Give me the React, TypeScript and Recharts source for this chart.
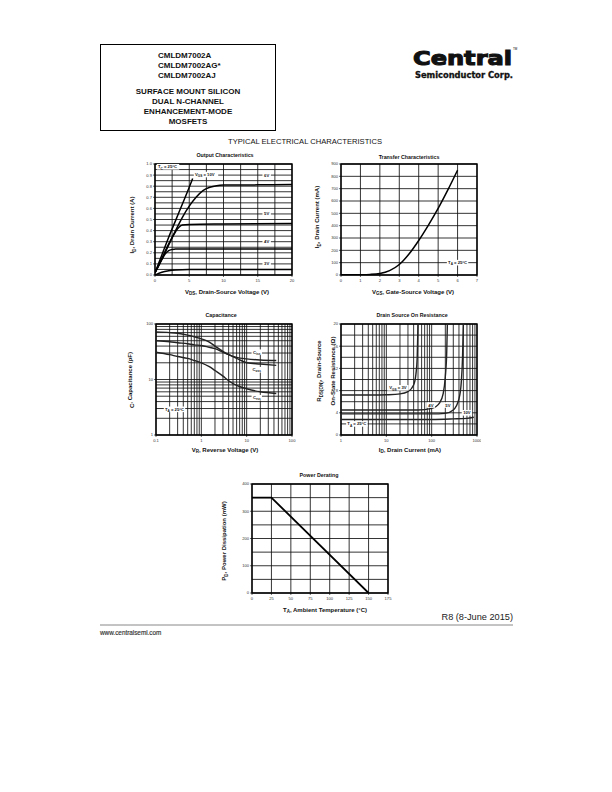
import React from 'react';
import { LineChart, Line, XAxis, YAxis, CartesianGrid, ReferenceArea, ReferenceDot } from 'recharts';

const FONT = '"Liberation Sans", Arial, Helvetica, sans-serif';

// Output Characteristics: I_D (A) vs V_DS (V), one pair of arrays per V_GS curve
const outVds10 = [0, 1, 2, 3, 4, 5, 5.5];
const outId10 = [0.02, 0.18, 0.34, 0.49, 0.64, 0.79, 0.87];
const outVds6 = [0, 1, 2, 3, 4, 5, 6, 7, 8, 9, 10, 15, 20];
const outId6 = [0.02, 0.14, 0.27, 0.4, 0.52, 0.62, 0.7, 0.76, 0.79, 0.805, 0.81, 0.812, 0.815];
const outVds5 = [0, 1, 2, 3, 3.5, 4, 5, 10, 20];
const outId5 = [0.02, 0.15, 0.28, 0.39, 0.43, 0.45, 0.455, 0.46, 0.465];
const outVds4 = [0, 0.5, 1, 1.5, 2, 2.5, 3, 20];
const outId4 = [0.02, 0.08, 0.14, 0.19, 0.22, 0.23, 0.235, 0.235];
const outVds3 = [0, 1, 2, 3, 5, 20];
const outId3 = [0, 0.025, 0.038, 0.045, 0.05, 0.05];
const outVdsTicks = [0, 2.5, 5, 7.5, 10, 12.5, 15, 17.5, 20];
const outIdTicks = [0, 0.05, 0.1, 0.15, 0.2, 0.25, 0.3, 0.35, 0.4, 0.45, 0.5, 0.55, 0.6, 0.65, 0.7, 0.75, 0.8, 0.85, 0.9, 0.95, 1];

// Transfer Characteristics: I_D (mA) vs V_GS (V)
const trVgs = [0, 1, 1.5, 2, 2.5, 3, 3.5, 4, 4.5, 5, 5.5, 6];
const trId = [2, 3, 5, 12, 35, 85, 170, 280, 405, 540, 690, 850];
const trVgsTicks = [0, 1, 2, 3, 4, 5, 6, 7];
const trIdTicks = [0, 100, 200, 300, 400, 500, 600, 700, 800, 900];

// Capacitance (pF) vs V_R (V)
const capVr = [0.1, 0.2, 0.3, 0.5, 0.7, 1, 1.5, 2, 3, 4, 6, 10, 20, 45];
const capCiss = [72, 70, 68, 63, 59, 54, 47, 40, 32, 28, 25, 23.5, 22.5, 22];
const capCoss = [50, 48, 46, 44, 42, 41, 38, 36, 31, 28, 24, 20, 19, 18];
const capCrss = [31, 28, 26, 24, 22, 20, 17, 14.5, 11.5, 9.5, 7.8, 6.8, 6, 5.6];
const capVrTicks = [0.1, 0.2, 0.3, 0.4, 0.5, 0.6, 0.7, 0.8, 0.9, 1, 2, 3, 4, 5, 6, 7, 8, 9, 10, 20, 30, 40, 50, 60, 70, 80, 90, 100];
const capTicks = [1, 2, 3, 4, 5, 6, 7, 8, 9, 10, 20, 30, 40, 50, 60, 70, 80, 90, 100];
const decadeLabels = [0.1, 1, 10, 100, 1000];

// Drain Source On Resistance (ohm) vs I_D (mA)
const rdsId3 = [1, 5, 10, 20, 30, 40, 45, 48, 50];
const rdsR3 = [7.2, 7.2, 7.25, 7.4, 7.8, 9, 11, 14, 20];
const rdsId4 = [1, 10, 50, 100, 150, 180, 200, 215, 222];
const rdsR4 = [4.5, 4.5, 4.5, 4.8, 5.8, 7.5, 10.5, 15, 20];
const rdsId5 = [1, 10, 100, 200, 300, 400, 450, 480, 500];
const rdsR5 = [3.8, 3.8, 3.8, 3.9, 4.5, 6.5, 9.5, 14, 20];
const rdsId10 = [1, 10, 100, 300, 600, 850];
const rdsR10 = [2.8, 2.8, 2.8, 2.9, 3.0, 3.2];
const rdsIdTicks = [1, 2, 3, 4, 5, 6, 7, 8, 9, 10, 20, 30, 40, 50, 60, 70, 80, 90, 100, 200, 300, 400, 500, 600, 700, 800, 900, 1000];
const rdsTicks = [0, 2, 4, 6, 8, 10, 12, 14, 16, 18, 20];

// Power Derating: P_D (mW) vs T_A (C)
const pdTemp = [0, 25, 150];
const pdPower = [350, 350, 0];
const pdTempTicks = [0, 25, 50, 75, 100, 125, 150, 175];
const pdPowerTicks = [0, 50, 100, 150, 200, 250, 300, 350, 400];

type Pt = { x: number; y: number };
const zip = (xs: number[], ys: number[]): Pt[] => xs.map((x, i) => ({ x, y: ys[i] }));

const GRID = '#111';
const TICK_FS = 4.1;
const YW = 16;
const XH = 10;
const MT = 4;
const MR = 4;

const xTick = (fmt: (v: number) => string) => (props: any) => {
  const { x, y, payload } = props;
  const s = fmt(payload.value);
  if (!s) return <g />;
  return (
    <g>
      <line x1={x} x2={x} y1={y - 3} y2={y - 1} stroke="#000" strokeWidth={0.6} />
      <text x={x} y={y + 4} textAnchor="middle" fontSize={TICK_FS} fontFamily={FONT} fill="#333">{s}</text>
    </g>
  );
};

const yTick = (fmt: (v: number) => string) => (props: any) => {
  const { x, y, payload } = props;
  const s = fmt(payload.value);
  if (!s) return <g />;
  return (
    <g>
      <line x1={x + 1} x2={x + 3} y1={y} y2={y} stroke="#000" strokeWidth={0.6} />
      <text x={x} y={y + 1.4} textAnchor="end" fontSize={TICK_FS} fontFamily={FONT} fill="#333">{s}</text>
    </g>
  );
};

const logFmt = (v: number) => (decadeLabels.includes(v) ? String(v) : '');

const xAx = { type: 'number' as const, dataKey: 'x', interval: 0, tickSize: 2, tickMargin: 1, height: XH, axisLine: false, tickLine: false, allowDataOverflow: true };
const yAx = { type: 'number' as const, interval: 0, tickSize: 2, tickMargin: 1, width: YW, axisLine: false, tickLine: false, allowDataOverflow: true };

// small white-backed annotation placed at a data point
const tag = (content: React.ReactNode, w: number, anchor: 'middle' | 'start' = 'middle', fs = 4.2) => (p: any) => {
  const { cx, cy } = p;
  const x0 = anchor === 'middle' ? cx - w / 2 : cx;
  return (
    <g>
      <rect x={x0 - 1.2} y={cy - 2.8} width={w + 2.4} height={5.6} fill="#fff" />
      <text x={cx} y={cy + 1.5} textAnchor={anchor} fontSize={fs} fontWeight="bold" fontFamily={FONT} fill="#111">{content}</text>
    </g>
  );
};

const sub = (a: string, s: string, b: string, fs = 4.2) => (
  <>
    <tspan>{a}</tspan>
    <tspan dy={fs * 0.3} fontSize={fs * 0.75}>{s}</tspan>
    <tspan dy={-fs * 0.3}>{b}</tspan>
  </>
);

const Plot = ({ left, top, w, h, children }: { left: number; top: number; w: number; h: number; children: React.ReactNode }) => (
  <div style={{ position: 'absolute', left: left - YW, top: top - MT }}>
    <LineChart width={w + YW + MR} height={h + MT + XH} margin={{ top: MT, right: MR, bottom: 0, left: 0 }}>
      {children}
    </LineChart>
  </div>
);

const curve = (data: Pt[], key: string, width = 1.5, color = '#000') => (
  <Line key={key} data={data} dataKey="y" type="monotone" stroke={color} strokeWidth={width} dot={false} isAnimationActive={false} />
);

const OutputChart = () => (
  <Plot left={155} top={164} w={137} h={111}>
    <CartesianGrid stroke={GRID} strokeWidth={0.85} />
    <XAxis {...xAx} domain={[0, 20]} ticks={outVdsTicks} tick={xTick((v) => (v % 5 === 0 ? String(v) : ''))} />
    <YAxis {...yAx} domain={[0, 1]} ticks={outIdTicks} tick={yTick((v) => (Math.round(v * 100) % 10 === 0 ? v.toFixed(1) : ''))} />
    <ReferenceArea x1={0} x2={20} y1={0} y2={1} fill="none" stroke="#000" strokeWidth={1.4} ifOverflow="visible" />
    {curve(zip(outVds10, outId10), 'v10')}
    {curve(zip(outVds6, outId6), 'v6')}
    {curve(zip(outVds5, outId5), 'v5')}
    {curve(zip(outVds4, outId4), 'v4')}
    {curve(zip(outVds3, outId3), 'v3')}
    <ReferenceDot x={0.44} y={0.975} r={0} ifOverflow="visible" shape={tag(sub('T', 'C', ' = 25°C'), 20, 'start')} />
    <ReferenceDot x={5.84} y={0.905} r={0} ifOverflow="visible" shape={tag(sub('V', 'GS', ' = 10V'), 22, 'start')} />
    <ReferenceDot x={16.3} y={0.9} r={0} ifOverflow="visible" shape={tag('6V', 6)} />
    <ReferenceDot x={16.3} y={0.55} r={0} ifOverflow="visible" shape={tag('5V', 6)} />
    <ReferenceDot x={16.3} y={0.3} r={0} ifOverflow="visible" shape={tag('4V', 6)} />
    <ReferenceDot x={16.3} y={0.1} r={0} ifOverflow="visible" shape={tag('3V', 6)} />
  </Plot>
);

const TransferChart = () => (
  <Plot left={341} top={164} w={136} h={111}>
    <CartesianGrid stroke={GRID} strokeWidth={0.85} />
    <XAxis {...xAx} domain={[0, 7]} ticks={trVgsTicks} tick={xTick((v) => String(v))} />
    <YAxis {...yAx} domain={[0, 900]} ticks={trIdTicks} tick={yTick((v) => String(v))} />
    <ReferenceArea x1={0} x2={7} y1={0} y2={900} fill="none" stroke="#000" strokeWidth={1.4} ifOverflow="visible" />
    {curve(zip(trVgs, trId), 'tr')}
    <ReferenceDot x={6} y={100} r={0} ifOverflow="visible" shape={tag(sub('T', 'A', ' = 25°C'), 19)} />
  </Plot>
);

const CapChart = () => (
  <Plot left={156} top={324} w={136} h={111}>
    <CartesianGrid stroke={GRID} strokeWidth={0.85} />
    <XAxis {...xAx} scale="log" domain={[0.1, 100]} ticks={capVrTicks} tick={xTick(logFmt)} />
    <YAxis {...yAx} scale="log" domain={[1, 100]} ticks={capTicks} tick={yTick(logFmt)} />
    <ReferenceArea x1={0.1} x2={100} y1={1} y2={100} fill="none" stroke="#000" strokeWidth={1.4} ifOverflow="visible" />
    {curve(zip(capVr, capCiss), 'ciss', 1.4, '#222')}
    {curve(zip(capVr, capCoss), 'coss', 1.4, '#222')}
    {curve(zip(capVr, capCrss), 'crss', 1.4, '#222')}
    <ReferenceDot x={16.7} y={31} r={0} ifOverflow="visible" shape={tag(sub('C', 'iss', ''), 8)} />
    <ReferenceDot x={16.7} y={15} r={0} ifOverflow="visible" shape={tag(sub('C', 'oss', ''), 8)} />
    <ReferenceDot x={16.7} y={4.7} r={0} ifOverflow="visible" shape={tag(sub('C', 'rss', ''), 8)} />
    <ReferenceDot x={0.158} y={2.9} r={0} ifOverflow="visible" shape={tag(sub('T', 'A', ' = 25°C'), 19, 'start')} />
  </Plot>
);

const RdsChart = () => (
  <Plot left={341} top={324} w={136} h={111}>
    <CartesianGrid stroke={GRID} strokeWidth={0.85} />
    <XAxis {...xAx} scale="log" domain={[1, 1000]} ticks={rdsIdTicks} tick={xTick(logFmt)} />
    <YAxis {...yAx} domain={[0, 20]} ticks={rdsTicks} tick={yTick((v) => (v % 4 === 0 ? String(v) : ''))} />
    <ReferenceArea x1={1} x2={1000} y1={0} y2={20} fill="none" stroke="#000" strokeWidth={1.4} ifOverflow="visible" />
    {curve(zip(rdsId3, rdsR3), 'r3', 1.4, '#222')}
    {curve(zip(rdsId4, rdsR4), 'r4', 1.4, '#222')}
    {curve(zip(rdsId5, rdsR5), 'r5', 1.4, '#222')}
    {curve(zip(rdsId10, rdsR10), 'r10', 1.4, '#222')}
    <ReferenceDot x={18} y={8.5} r={0} ifOverflow="visible" shape={tag(sub('V', 'GS', ' = 3V'), 19)} />
    <ReferenceDot x={96} y={5.4} r={0} ifOverflow="visible" shape={tag('4V', 6)} />
    <ReferenceDot x={228} y={5.4} r={0} ifOverflow="visible" shape={tag('5V', 6)} />
    <ReferenceDot x={600} y={4} r={0} ifOverflow="visible" shape={tag('10V', 8)} />
    <ReferenceDot x={1.38} y={2} r={0} ifOverflow="visible" shape={tag(sub('T', 'A', ' = 25°C'), 19, 'start')} />
  </Plot>
);

const DeratingChart = () => (
  <Plot left={252} top={484} w={136} h={109}>
    <CartesianGrid stroke={GRID} strokeWidth={0.85} />
    <XAxis {...xAx} domain={[0, 175]} ticks={pdTempTicks} tick={xTick((v) => String(v))} />
    <YAxis {...yAx} domain={[0, 400]} ticks={pdPowerTicks} tick={yTick((v) => (v % 100 === 0 ? String(v) : ''))} />
    <ReferenceArea x1={0} x2={175} y1={0} y2={400} fill="none" stroke="#000" strokeWidth={1.4} ifOverflow="visible" />
    <Line data={zip(pdTemp, pdPower)} dataKey="y" type="linear" stroke="#000" strokeWidth={1.8} dot={false} isAnimationActive={false} />
  </Plot>
);

const AX_FS = 6;
const Sub = ({ a, s, b, fs = AX_FS }: { a: string; s: string; b: string; fs?: number }) => (
  <>
    <tspan>{a}</tspan>
    <tspan dy={fs * 0.32} fontSize={fs * 0.75}>{s}</tspan>
    <tspan dy={-fs * 0.32}>{b}</tspan>
  </>
);

const PageText = () => (
  <svg width={612} height={792} style={{ position: 'absolute', left: 0, top: 0, pointerEvents: 'none' }} fontFamily={FONT}>
    <rect x={100.5} y={44.5} width={175} height={86} fill="none" stroke="#000" strokeWidth={1} />
    <g fontSize={8} fontWeight="bold" fill="#111">
      <text x={158} y={58}>CMLDM7002A</text>
      <text x={158} y={68}>CMLDM7002AG*</text>
      <text x={158} y={78}>CMLDM7002AJ</text>
      <text x={188} y={94} textAnchor="middle">SURFACE MOUNT SILICON</text>
      <text x={188} y={104} textAnchor="middle">DUAL N-CHANNEL</text>
      <text x={188} y={114} textAnchor="middle">ENHANCEMENT-MODE</text>
      <text x={188} y={124} textAnchor="middle">MOSFETS</text>
    </g>
    <text x={413} y={65} fontFamily='"DejaVu Sans", sans-serif' fontWeight="bold" fontSize={20} textLength={99} lengthAdjust="spacingAndGlyphs" fill="#111" stroke="#111" strokeWidth={1.1}>Central</text>
    <text x={513} y={50} fontSize={3}>TM</text>
    <text x={415} y={77.5} fontFamily='"DejaVu Sans", sans-serif' fontWeight="bold" fontSize={8} textLength={98} lengthAdjust="spacingAndGlyphs" fill="#111" stroke="#111" strokeWidth={0.3}>Semiconductor Corp.</text>
    <text x={305} y={143.5} textAnchor="middle" fontSize={7.6} textLength={154} fill="#111">TYPICAL ELECTRICAL CHARACTERISTICS</text>

    <g fontSize={5.3} fontWeight="bold" fill="#111" textAnchor="middle">
      <text x={225} y={157}>Output Characteristics</text>
      <text x={409} y={158.5}>Transfer Characteristics</text>
      <text x={221} y={316.5}>Capacitance</text>
      <text x={412} y={316.5}>Drain Source On Resistance</text>
      <text x={319} y={477}>Power Derating</text>
    </g>

    <g fontSize={AX_FS} fontWeight="bold" fill="#111" textAnchor="middle">
      <text x={227} y={293.5}><Sub a="V" s="DS" b=", Drain-Source Voltage (V)" /></text>
      <text x={413} y={293.5}><Sub a="V" s="GS" b=", Gate-Source Voltage (V)" /></text>
      <text x={225} y={451.5}><Sub a="V" s="R" b=", Reverse Voltage (V)" /></text>
      <text x={410} y={451.5}><Sub a="I" s="D" b=", Drain Current (mA)" /></text>
      <text x={325} y={611.5}><Sub a="T" s="A" b=", Ambient Temperature (°C)" /></text>

      <text transform="translate(134,225) rotate(-90)"><Sub a="I" s="D" b=", Drain Current (A)" /></text>
      <text transform="translate(319,217) rotate(-90)"><Sub a="I" s="D" b=", Drain Current (mA)" /></text>
      <text transform="translate(134,380) rotate(-90)"><Sub a="C" s="" b=", Capacitance (pF)" /></text>
      <text transform="translate(321,371) rotate(-90)"><Sub a="R" s="DS(ON)" b=", Drain-Source" /></text>
      <text transform="translate(335,371) rotate(-90)">On-State Resistance (Ω)</text>
      <text transform="translate(226,541) rotate(-90)"><Sub a="P" s="D" b=", Power Dissipation (mW)" /></text>
    </g>

    <text x={513} y={619.5} textAnchor="end" fontSize={9.2} fill="#222">R8 (8-June 2015)</text>
    <line x1={100} x2={513} y1={625} y2={625} stroke="#888" strokeWidth={1} />
    <text x={100} y={634.5} fontSize={6.4} fill="#333" stroke="#333" strokeWidth={0.15} letterSpacing={0.6} textLength={62}>www.centralsemi.com</text>
  </svg>
);

export default function App() {
  return (
    <div style={{ position: 'absolute', left: 0, top: 0, width: 612, height: 792, background: '#fff' }}>
      <OutputChart />
      <TransferChart />
      <CapChart />
      <RdsChart />
      <DeratingChart />
      <PageText />
    </div>
  );
}
